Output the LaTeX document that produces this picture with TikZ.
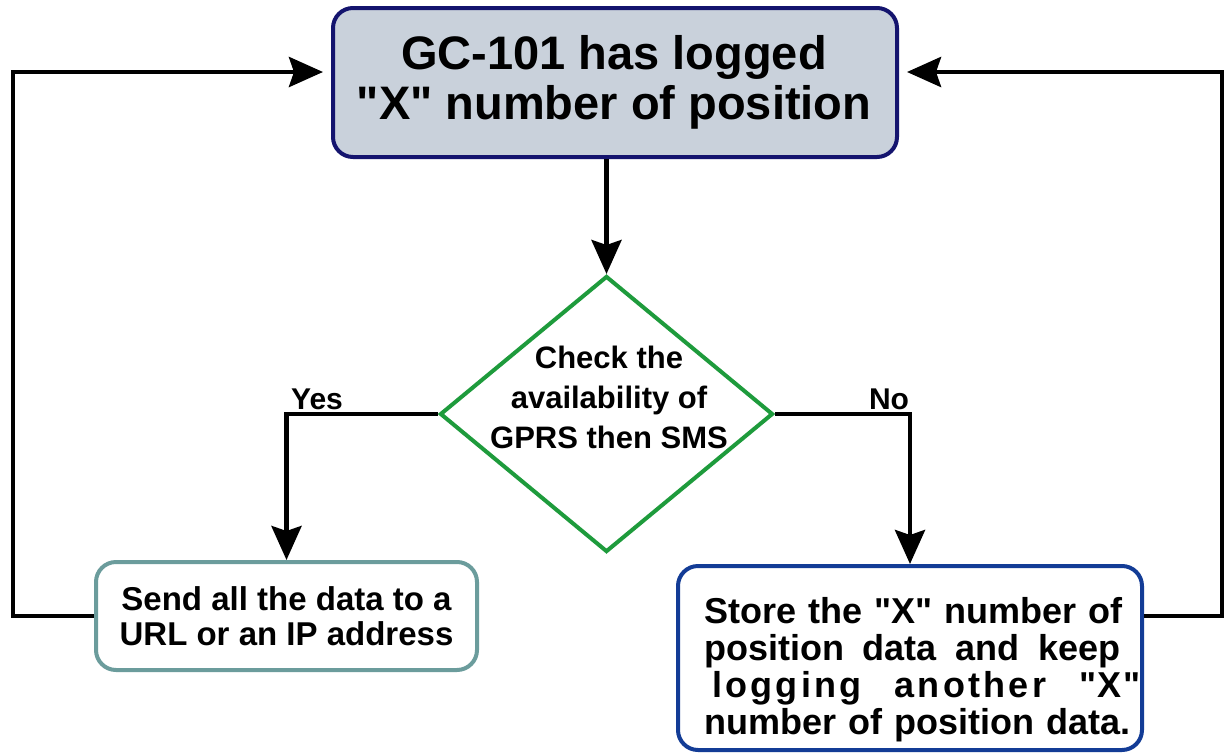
\documentclass[tikz,border=0pt]{standalone}
\usepackage{fontspec}
\setmainfont{Liberation Sans}[Ligatures=TeXOff]
\usetikzlibrary{shapes.geometric,arrows.meta,calc}
\definecolor{topfill}{HTML}{C9D1DB}
\definecolor{topline}{HTML}{14146E}
\definecolor{dgreen}{HTML}{1E9B3C}
\definecolor{teal}{HTML}{6B9C9C}
\definecolor{bblue}{HTML}{133C96}
\newcommand{\spc}[1]{{\addfontfeature{LetterSpace=9}#1}}
\begin{document}
\begin{tikzpicture}[x=1pt,y=-1pt,
  box/.style={draw, rounded corners=20pt, line width=4pt, inner sep=0pt},
  arr/.style={line width=4.5pt, -{Stealth[length=34pt,width=30pt,inset=5pt]}},
  lbl/.style={font=\bfseries\fontsize{30}{36}\selectfont, inner sep=0pt}]
\useasboundingbox (0,0) rectangle (1227,753);
\fill[white] (0,0) rectangle (1227,753);
\node[box, fill=topfill, draw=topline, minimum width=564pt, minimum height=149pt] (top) at (615,82.5) {};
\node[font=\bfseries\fontsize{47}{50}\selectfont, align=center, inner sep=0pt] (tt) at (614,82) {GC-101 has logged\\"X" number of position};
\node[diamond, draw=dgreen, line width=4pt, minimum width=333pt, minimum height=276pt, inner sep=0pt] (d) at (606.5,414) {};
\node[font=\bfseries\fontsize{31}{40}\selectfont, align=center, inner sep=0pt] (dt) at (609,397) {Check the\\availability of\\GPRS then SMS};
\node[box, draw=teal, minimum width=381pt, minimum height=108pt,
      font=\bfseries\fontsize{33}{35}\selectfont, align=center] (lb) at (286.5,616)
      {Send all the data to a\\URL or an IP address};
\node[box, draw=bblue, minimum width=464pt, minimum height=184pt] (rb) at (910,658) {};
\node[font=\bfseries\fontsize{36}{37}\selectfont, inner sep=0pt, text width=440pt, align=left, anchor=west] (rt) at (704,669.5)
      {Store the "X" number of\\
       \makebox[416pt][s]{position\hfill data\hfill and\hfill keep}\\
       \makebox[436pt][s]{\hspace*{8pt}\spc{logging}\hfill\spc{another}\hfill{\addfontfeature{LetterSpace=4}"X"}}\\
       number of position data.};
\coordinate (lc) at (13,72);
\coordinate (rc) at (1222,72);
\draw[arr] (d.north |- top.south) -- (d.north);
\draw[arr] (d.west) -| (lb.north);
\draw[arr] (d.east) -| (rb.north);
\draw[arr] (lb.west) -| (lc) -- ([xshift=-8pt]top.west |- lc);
\draw[arr] (rb.east |- lb.west) -| (rc) -- ([xshift=8pt]top.east |- rc);
\node[lbl, anchor=base] (yes) at (317,409) {Yes};
\node[lbl, anchor=base] (no) at (889,409) {No};
\end{tikzpicture}
\end{document}
